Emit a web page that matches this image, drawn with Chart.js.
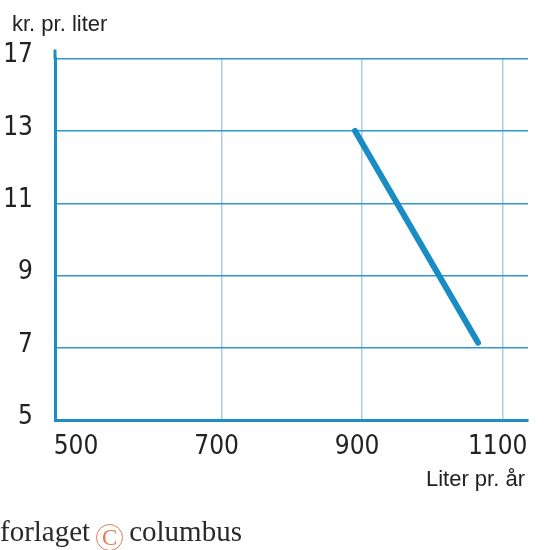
<!DOCTYPE html>
<html>
<head>
<meta charset="utf-8">
<script src="https://cdn.jsdelivr.net/npm/chart.js@4"></script>
<style>
  body { margin: 0; background: #fff; }
  #wrap { position: relative; width: 550px; height: 550px; }
  .lbl { position: absolute; font-family: 'Liberation Sans', Arial, sans-serif; font-size: 22px; color: #222; white-space: nowrap; }
  #credit { position: absolute; left: 0; top: 515px; font-family: 'Liberation Serif', 'DejaVu Serif', serif; font-size: 29px; color: #2a2a2a; white-space: nowrap; }
  #credit .c { display: inline-block; width: 25px; height: 25px; line-height: 26px; border: 1.5px solid #e07a50; border-radius: 50%; color: #e07a50; font-size: 23px; text-align: center; vertical-align: -4px; margin: 0 6px 0 6px; }
</style>
</head>
<body>
<div id="wrap">
  <canvas id="chart" width="550" height="550"></canvas>
  <div class="lbl" style="left:12px; top:11px;">kr. pr. liter</div>
  <div class="lbl" style="right:25px; top:466px;">Liter pr. år</div>
  <div id="credit">forlaget<span class="c">C</span>columbus</div>
</div>
<script>
// --- DATA ---
const literPerYear = [890, 1065];
const krPerLiter = [13, 7.15];
const xTicks = [500, 700, 900, 1100];
const yTicks = [5, 7, 9, 11, 13, 15];
const yTickLabels = ['5', '7', '9', '11', '13', '17']; // top step is a broken axis

const BLUE = '#1a8cc4';
const AXIS = '#1b8ec2';
const TICK_FONT = { family: "'Liberation Sans Narrow', 'DejaVu Sans Condensed', 'Liberation Sans', sans-serif", size: 26 };

// extend the y axis line a little above the top gridline
const axisStub = {
    id: 'axisStub',
    afterDraw: (chart) => {
        const { ctx, chartArea } = chart;
        ctx.save();
        ctx.strokeStyle = AXIS;
        ctx.lineWidth = 3;
        ctx.beginPath();
        ctx.moveTo(chartArea.left, chartArea.top - 9);
        ctx.lineTo(chartArea.left, chartArea.top + 1);
        ctx.stroke();
        ctx.restore();
    }
};

new Chart(document.getElementById('chart').getContext('2d'), {
    type: 'line',
    data: {
        datasets: [{
            data: literPerYear.map((x, i) => ({ x, y: krPerLiter[i] })),
            borderColor: BLUE,
            borderWidth: 6,
            borderCapStyle: 'round',
            pointRadius: 0,
            tension: 0
        }]
    },
    options: {
        responsive: false,
        animation: false,
        layout: { padding: { left: 0, top: 58.5, right: 22, bottom: 69.5 } },
        plugins: { legend: { display: false }, tooltip: { enabled: false } },
        scales: {
            x: {
                type: 'linear',
                min: 463,
                max: 1136,
                afterBuildTicks: (scale) => { scale.ticks = xTicks.map(v => ({ value: v })); },
                afterFit: (scale) => { scale.height = 60; },
                grid: {
                    // no gridline at the first tick
                    color: (ctx) => ctx.tick && ctx.tick.value === xTicks[0] ? 'rgba(0,0,0,0)' : '#aacfe3',
                    lineWidth: 1.5,
                    drawTicks: false
                },
                border: { color: AXIS, width: 3 },
                ticks: { color: '#222', font: TICK_FONT, padding: 11, labelOffset: -5, maxRotation: 0, callback: (value) => String(value) }
            },
            y: {
                type: 'linear',
                min: 5,
                max: 15,
                afterBuildTicks: (scale) => { scale.ticks = yTicks.map(v => ({ value: v })); },
                afterFit: (scale) => { scale.width = 55; },
                grid: { color: '#3196cb', lineWidth: 1.5, drawTicks: false },
                border: { color: AXIS, width: 3 },
                ticks: {
                    color: '#222',
                    font: TICK_FONT,
                    padding: 22,
                    labelOffset: -3,
                    callback: (value) => yTickLabels[yTicks.indexOf(value)]
                }
            }
        }
    },
    plugins: [axisStub]
});
</script>
</body>
</html>
